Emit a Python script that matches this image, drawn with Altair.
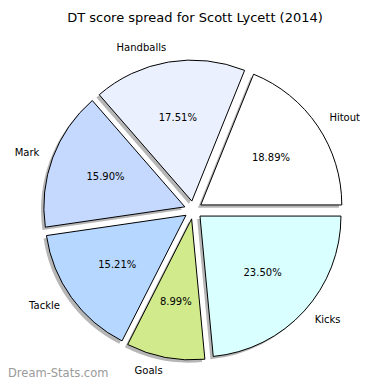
import altair as alt
import pandas as pd

labels = ["Hitout", "Handballs", "Mark", "Tackle", "Goals", "Kicks"]
values = [18.89, 17.51, 15.90, 15.21, 8.99, 23.50]
colors = ["#ffffff", "#eaf0fe", "#c5d8fd", "#b6d7ff", "#d1ea8c", "#d9ffff"]

df = pd.DataFrame({"label": labels, "value": values, "idx": list(range(len(labels)))})

R = 141          # pie radius in px
EXPLODE = 0.064  # offset of each wedge (fraction of radius)
xs = alt.Scale(domain=[-1.314, 1.338], range=[0, 374], nice=False, zero=False)
ys = alt.Scale(domain=[-1.220, 1.149], range=[334, 0], nice=False, zero=False)

base = alt.Chart(df).transform_joinaggregate(
    total="sum(value)"
).transform_window(
    cum="sum(value)", sort=[alt.SortField("idx")], frame=[None, 0]
).transform_calculate(
    a0="2*PI*(datum.cum-datum.value)/datum.total",
    a1="2*PI*datum.cum/datum.total",
).transform_calculate(
    mid="(datum.a0+datum.a1)/2",
    t0="PI/2-datum.a0",
    t1="PI/2-datum.a1",
    pct="format(datum.value/datum.total*100, '.2f') + '%'",
).transform_calculate(
    cx=f"{EXPLODE}*cos(datum.mid)",
    cy=f"{EXPLODE}*sin(datum.mid)",
    sx=f"{EXPLODE}*cos(datum.mid)-0.02",
    sy=f"{EXPLODE}*sin(datum.mid)-0.02",
    px=f"{EXPLODE}*cos(datum.mid)+0.6*cos(datum.mid)",
    py=f"{EXPLODE}*sin(datum.mid)+0.6*sin(datum.mid)",
    lx=f"{EXPLODE}*cos(datum.mid)+1.1*cos(datum.mid)",
    ly=f"{EXPLODE}*sin(datum.mid)+1.1*sin(datum.mid)",
)

shadow = base.mark_arc(fill="#7a7a7a", opacity=0.55, radius=R).encode(
    x=alt.X("sx:Q", scale=xs, axis=None),
    y=alt.Y("sy:Q", scale=ys, axis=None),
    theta=alt.Theta("t0:Q", scale=None),
    theta2="t1:Q",
)

wedges = base.mark_arc(stroke="black", strokeWidth=1, radius=R).encode(
    x=alt.X("cx:Q", scale=xs, axis=None),
    y=alt.Y("cy:Q", scale=ys, axis=None),
    theta=alt.Theta("t0:Q", scale=None),
    theta2="t1:Q",
    fill=alt.Fill("label:N", scale=alt.Scale(domain=labels, range=colors), legend=None),
)

pcts = base.mark_text(font="DejaVu Sans", fontSize=10, color="black", baseline="middle").encode(
    x=alt.X("px:Q", scale=xs, axis=None),
    y=alt.Y("py:Q", scale=ys, axis=None),
    text="pct:N",
)

lab_right = base.transform_filter("cos(datum.mid) >= 0").mark_text(
    font="DejaVu Sans", fontSize=10, color="black", baseline="middle", align="left"
).encode(
    x=alt.X("lx:Q", scale=xs, axis=None),
    y=alt.Y("ly:Q", scale=ys, axis=None),
    text="label:N",
)
lab_left = base.transform_filter("cos(datum.mid) < 0").mark_text(
    font="DejaVu Sans", fontSize=10, color="black", baseline="middle", align="right"
).encode(
    x=alt.X("lx:Q", scale=xs, axis=None),
    y=alt.Y("ly:Q", scale=ys, axis=None),
    text="label:N",
)

watermark = alt.Chart(pd.DataFrame({"t": ["Dream-Stats.com"]})).mark_text(
    font="DejaVu Sans", fontSize=11.5, color="#9a9a9a", align="left", baseline="middle"
).encode(x=alt.value(0), y=alt.value(326), text="t:N")

chart = alt.layer(shadow, wedges, pcts, lab_right, lab_left, watermark).properties(
    width=374,
    height=334,
    title=alt.TitleParams(
        "DT score spread for Scott Lycett (2014)",
        font="DejaVu Sans", fontSize=13, fontWeight="normal", color="black",
        anchor="middle", offset=18,
    ),
    autosize=alt.AutoSizeParams(type="none"),
    padding={"left": 0, "top": 40, "right": 0, "bottom": 0},
).configure_view(strokeWidth=0)

chart.save("out.html", embed_options={"renderer": "svg", "actions": False})
